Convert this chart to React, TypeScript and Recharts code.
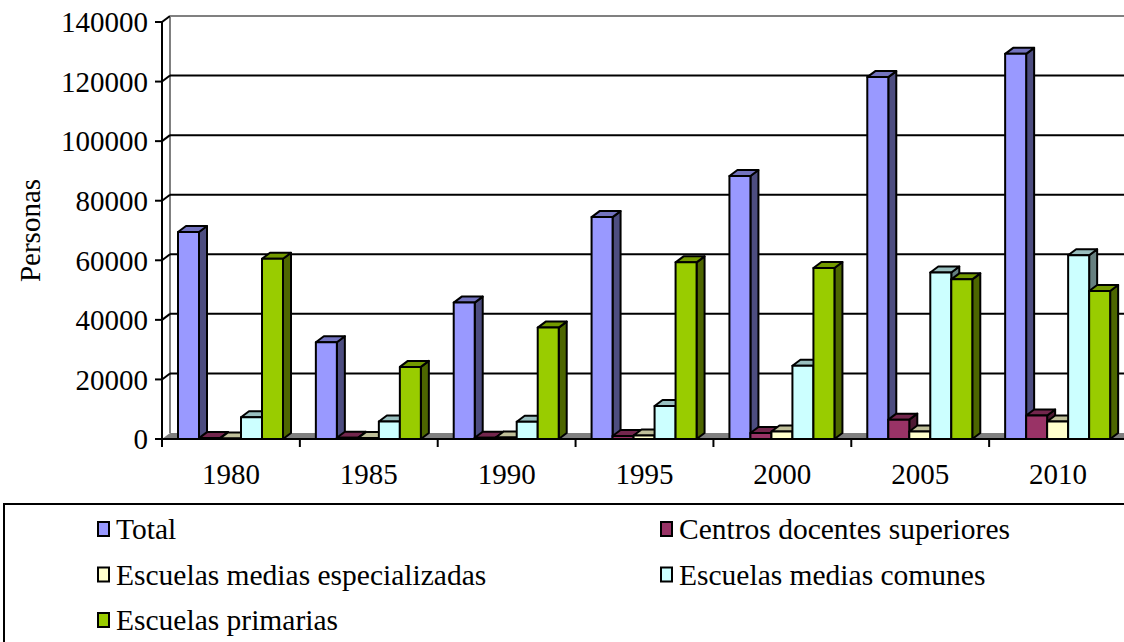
import { Bar, BarChart, CartesianGrid, XAxis, YAxis } from "recharts";

const years = ["1980", "1985", "1990", "1995", "2000", "2005", "2010"];
const total = [69500, 32500, 45800, 74500, 88300, 121500, 129300];
const centros = [300, 400, 400, 1000, 2000, 6500, 7900];
const especializadas = [200, 300, 500, 1200, 2500, 2500, 5900];
const comunes = [7300, 5900, 5800, 11100, 24600, 55900, 61700];
const primarias = [60500, 24200, 37400, 59300, 57400, 53600, 49700];
const yTicks = [0, 20000, 40000, 60000, 80000, 100000, 120000, 140000];

const series = [
  { key: "total", name: "Total", color: "#9999FF", values: total },
  { key: "centros", name: "Centros docentes superiores", color: "#993366", values: centros },
  { key: "especializadas", name: "Escuelas medias especializadas", color: "#FFFFCC", values: especializadas },
  { key: "comunes", name: "Escuelas medias comunes", color: "#CCFFFF", values: comunes },
  { key: "primarias", name: "Escuelas primarias", color: "#99CC00", values: primarias },
];

const data = years.map((year, i) => {
  const row: Record<string, string | number> = { year };
  series.forEach((s) => (row[s.key] = s.values[i]));
  return row;
});

const FONT = "Liberation Serif, Times New Roman, serif";
const FS = 29;
const W = 1140;
const H = 500;
const MARGIN = { top: 22, right: 13, bottom: 0, left: 0 };
const Y_AXIS_W = 162;
const X_AXIS_H = 61;
const PLOT_TOP = MARGIN.top;
const PLOT_BOTTOM = H - MARGIN.bottom - X_AXIS_H;
const PLOT_W = W - MARGIN.left - MARGIN.right - Y_AXIS_W;
const BAND = PLOT_W / years.length;
// 3d depth
const DX = 8;
const DY = 6;

function shade(hex: string, f: number) {
  const n = parseInt(hex.slice(1), 16);
  const r = Math.round(((n >> 16) & 255) * f);
  const g = Math.round(((n >> 8) & 255) * f);
  const b = Math.round((n & 255) * f);
  return `rgb(${r},${g},${b})`;
}

function Bar3D(props: any) {
  const { x, y, width, height, fill } = props;
  if (x == null || y == null) return null;
  const h = Math.max(height, 0);
  const r = x + width;
  const b = y + h;
  return (
    <g stroke="#000" strokeWidth={2} strokeLinejoin="round">
      <polygon
        points={`${r},${y} ${r + DX},${y - DY} ${r + DX},${b - DY} ${r},${b}`}
        fill={shade(fill, 0.5)}
      />
      <polygon
        points={`${x},${y} ${x + DX},${y - DY} ${r + DX},${y - DY} ${r},${y}`}
        fill={shade(fill, 0.75)}
      />
      <rect x={x} y={y} width={width} height={h} fill={fill} />
    </g>
  );
}

function GridLine(props: any) {
  const { x1, x2, y1, index } = props;
  const y = y1;
  if (y >= PLOT_BOTTOM - 0.5) {
    return (
      <g key={`h-${index}`}>
        <line x1={x1 + DX} y1={PLOT_TOP - DY} x2={x1 + DX} y2={y - DY} stroke="#808080" strokeWidth={2} />
        <polygon
          points={`${x1},${y} ${x2},${y} ${x2 + DX},${y - DY} ${x1 + DX},${y - DY}`}
          fill="#808080"
        />
      </g>
    );
  }
  const top = y <= PLOT_TOP + 0.5;
  return (
    <g key={`h-${index}`}>
      <line x1={x1} y1={y} x2={x1 + DX} y2={y - DY} stroke="#000" strokeWidth={2} />
      <line x1={x1 + DX} y1={y - DY} x2={x2 + DX} y2={y - DY} stroke={top ? "#808080" : "#000"} strokeWidth={2} />
    </g>
  );
}

function XTick(props: any) {
  const { x, y, payload, index } = props;
  const left = x - BAND / 2;
  return (
    <g>
      <line x1={left} y1={y} x2={left} y2={y + 8} stroke="#000" strokeWidth={2} />
      {index === years.length - 1 && (
        <line x1={x + BAND / 2} y1={y} x2={x + BAND / 2} y2={y + 8} stroke="#000" strokeWidth={2} />
      )}
      <text x={x} y={y + 45} textAnchor="middle" fontFamily={FONT} fontSize={FS} fill="#000">
        {payload.value}
      </text>
    </g>
  );
}

function YLabel(props: any) {
  const vb = props.viewBox;
  const cy = vb.y + vb.height / 2;
  const cx = 40;
  return (
    <text
      x={cx}
      y={cy}
      transform={`rotate(-90 ${cx} ${cy})`}
      textAnchor="middle"
      fontFamily={FONT}
      fontSize={FS}
      fill="#000"
    >
      Personas
    </text>
  );
}

function LegendBox() {
  return (
    <svg width={1124} height={142} style={{ position: "absolute", left: 0, top: 500 }}>
      <rect x={4} y={4} width={1200} height={200} fill="#fff" stroke="#000" strokeWidth={2} />
      {series.map((s, i) => {
        const sx = i % 2 === 0 ? 98 : 661;
        const cy = 29 + Math.floor(i / 2) * 45.5;
        return (
          <g key={s.key}>
            <rect x={sx} y={cy - 7} width={11} height={14} fill={s.color} stroke="#000" strokeWidth={2} />
            <text x={sx + 18} y={cy + 10} fontFamily={FONT} fontSize={29.5} fill="#000">
              {s.name}
            </text>
          </g>
        );
      })}
    </svg>
  );
}

export default function App() {
  return (
    <div style={{ position: "relative", width: 1124, height: 642, overflow: "hidden", background: "#fff" }}>
      <style>{"body{margin:0;overflow:hidden}"}</style>
      <BarChart width={W} height={H} data={data} margin={MARGIN} barSize={21} barGap={0}>
        <CartesianGrid vertical={false} horizontal={GridLine} />
        <XAxis
          dataKey="year"
          height={X_AXIS_H}
          axisLine={{ stroke: "#000", strokeWidth: 2 }}
          tickLine={false}
          tickSize={0}
          tickMargin={0}
          tick={XTick}
          interval={0}
        />
        <YAxis
          width={Y_AXIS_W}
          domain={[0, 140000]}
          ticks={yTicks}
          interval={0}
          axisLine={{ stroke: "#000", strokeWidth: 2 }}
          tickLine={{ stroke: "#000", strokeWidth: 2 }}
          tickSize={7}
          tickMargin={7}
          tick={{ fill: "#000", fontSize: FS, fontFamily: FONT }}
          label={{ content: YLabel }}
        />
        {series.map((s) => (
          <Bar
            key={s.key}
            dataKey={s.key}
            name={s.name}
            fill={s.color}
            shape={Bar3D}
            isAnimationActive={false}
          />
        ))}
      </BarChart>
      <LegendBox />
    </div>
  );
}
